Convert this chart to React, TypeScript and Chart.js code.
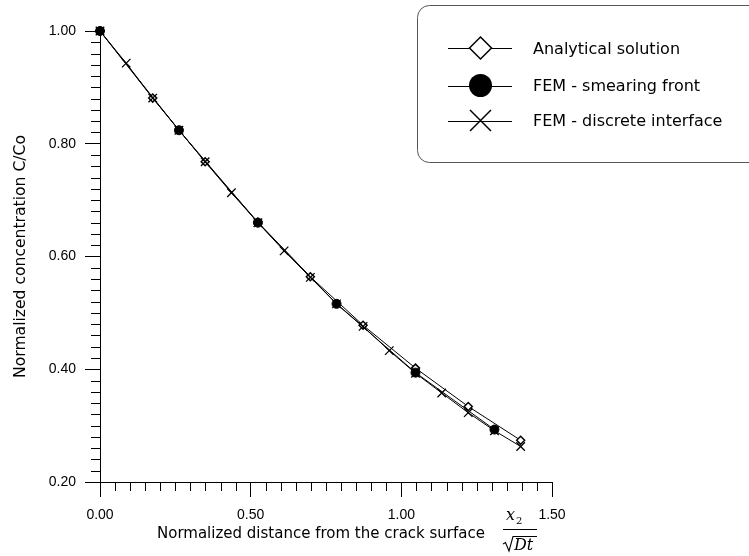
import React, { useEffect, useRef } from 'react';
import { Chart, registerables } from 'chart.js';

Chart.register(...registerables);

// ---------- data ----------
const analyticalX = [0, 0.175, 0.349, 0.524, 0.698, 0.873, 1.047, 1.222, 1.396];
const analyticalY = [1.0, 0.881, 0.768, 0.661, 0.564, 0.478, 0.402, 0.334, 0.274];

const smearingX = [0, 0.262, 0.524, 0.785, 1.047, 1.309];
const smearingY = [1.0, 0.824, 0.66, 0.516, 0.394, 0.293];

const discreteX = [0, 0.087, 0.175, 0.262, 0.349, 0.436, 0.524, 0.611, 0.698, 0.785, 0.873, 0.96, 1.047, 1.134, 1.222, 1.309, 1.396];
const discreteY = [1.0, 0.943, 0.881, 0.824, 0.768, 0.713, 0.66, 0.61, 0.563, 0.516, 0.476, 0.433, 0.393, 0.358, 0.323, 0.291, 0.263];

const seriesNames = ['Analytical solution', 'FEM - smearing front', 'FEM - discrete interface'];

const xMajorTicks = [0, 0.5, 1.0, 1.5];
const xTickLabels = ['0.00', '0.50', '1.00', '1.50'];
const yMajorTicks = [0.2, 0.4, 0.6, 0.8, 1.0];
const yTickLabels = ['0.20', '0.40', '0.60', '0.80', '1.00'];
const xMinorStep = 0.05;
const yMinorStep = 0.02;

const yTitle = 'Normalized concentration C/Co';
const xTitle = 'Normalized distance from the crack surface';

const toPoints = (xs: number[], ys: number[]) => xs.map((x, i) => ({ x, y: ys[i] }));

function drawMarker(ctx: CanvasRenderingContext2D, kind: string, x: number, y: number, r: number) {
  ctx.save();
  ctx.strokeStyle = '#000';
  ctx.lineWidth = 1.5;
  ctx.beginPath();
  if (kind === 'diamond') {
    ctx.moveTo(x, y - r);
    ctx.lineTo(x + r, y);
    ctx.lineTo(x, y + r);
    ctx.lineTo(x - r, y);
    ctx.closePath();
    ctx.fillStyle = '#fff';
    ctx.fill();
    ctx.stroke();
  } else if (kind === 'circle') {
    ctx.arc(x, y, r, 0, Math.PI * 2);
    ctx.fillStyle = '#000';
    ctx.fill();
  } else {
    ctx.moveTo(x - r, y - r);
    ctx.lineTo(x + r, y + r);
    ctx.moveTo(x + r, y - r);
    ctx.lineTo(x - r, y + r);
    ctx.stroke();
  }
  ctx.restore();
}

const decorPlugin = {
  id: 'decor',
  afterDraw(chart: any) {
    const ctx: CanvasRenderingContext2D = chart.ctx;
    const xs = chart.scales.x;
    const ys = chart.scales.y;
    const area = chart.chartArea;
    ctx.save();

    // minor ticks
    ctx.strokeStyle = '#000';
    ctx.lineWidth = 1;
    ctx.beginPath();
    const xMin = xs.min, xMax = xs.max;
    const nx = Math.round((xMax - xMin) / xMinorStep);
    for (let k = 0; k <= nx; k++) {
      const v = xMin + k * xMinorStep;
      if (xMajorTicks.some((t) => Math.abs(t - v) < 1e-6)) continue;
      const px = Math.round(xs.getPixelForValue(v)) + 0.5;
      ctx.moveTo(px, area.bottom);
      ctx.lineTo(px, area.bottom + 9);
    }
    const yMin = ys.min, yMax = ys.max;
    const ny = Math.round((yMax - yMin) / yMinorStep);
    for (let k = 0; k <= ny; k++) {
      const v = yMin + k * yMinorStep;
      if (yMajorTicks.some((t) => Math.abs(t - v) < 1e-6)) continue;
      const py = Math.round(ys.getPixelForValue(v)) + 0.5;
      ctx.moveTo(area.left - 9, py);
      ctx.lineTo(area.left, py);
    }
    ctx.stroke();

    // y title
    ctx.fillStyle = '#000';
    ctx.save();
    ctx.translate(25, (area.top + area.bottom) / 2);
    ctx.rotate(-Math.PI / 2);
    ctx.font = '15.6px "DejaVu Sans"';
    ctx.textAlign = 'center';
    ctx.textBaseline = 'alphabetic';
    ctx.fillText(yTitle, 0, 0);
    ctx.restore();

    // x title + fraction
    ctx.font = '15px "DejaVu Sans"';
    ctx.textAlign = 'left';
    ctx.textBaseline = 'alphabetic';
    ctx.fillText(xTitle, 157, 538);
    const fx = 503;
    ctx.font = 'italic 16px "DejaVu Serif"';
    ctx.fillText('x', fx + 3, 520);
    ctx.font = '10px "DejaVu Serif"';
    ctx.fillText('2', fx + 13, 524);
    ctx.beginPath();
    ctx.lineWidth = 1;
    ctx.moveTo(fx, 529.5);
    ctx.lineTo(fx + 34, 529.5);
    ctx.stroke();
    ctx.beginPath();
    ctx.lineWidth = 1.1;
    ctx.moveTo(fx, 544);
    ctx.lineTo(fx + 2.5, 542.5);
    ctx.lineTo(fx + 6, 551);
    ctx.lineTo(fx + 10, 536.5);
    ctx.lineTo(fx + 34, 536.5);
    ctx.stroke();
    ctx.font = 'italic 16px "DejaVu Serif"';
    ctx.fillText('Dt', fx + 11, 550);

    // legend
    const bx = 417.5, by = 5.5, bw = 400, bh = 157, br = 12;
    ctx.beginPath();
    ctx.moveTo(bx + br, by);
    ctx.lineTo(bx + bw, by);
    ctx.lineTo(bx + bw, by + bh);
    ctx.lineTo(bx + br, by + bh);
    ctx.arcTo(bx, by + bh, bx, by + bh - br, br);
    ctx.lineTo(bx, by + br);
    ctx.arcTo(bx, by, bx + br, by, br);
    ctx.closePath();
    ctx.strokeStyle = '#555';
    ctx.lineWidth = 1;
    ctx.stroke();

    const rows = [48, 85.5, 120.5];
    const kinds = ['diamond', 'circle', 'cross'];
    const sizes = [11, 11.5, 10.5];
    chart.data.datasets.forEach((ds: any, i: number) => {
      const y = rows[i];
      ctx.beginPath();
      ctx.strokeStyle = '#000';
      ctx.lineWidth = 1;
      ctx.moveTo(448, Math.round(y) + 0.5);
      ctx.lineTo(512, Math.round(y) + 0.5);
      ctx.stroke();
      drawMarker(ctx, kinds[i], 480.5, y, sizes[i]);
      ctx.fillStyle = '#000';
      ctx.font = '16px "DejaVu Sans"';
      ctx.textAlign = 'left';
      ctx.textBaseline = 'alphabetic';
      ctx.fillText(ds.label, 533, y + 5.8);
    });

    ctx.restore();
  },
};

export default function App() {
  const canvasRef = useRef<HTMLCanvasElement | null>(null);

  useEffect(() => {
    document.body.style.margin = '0';
    const canvas = canvasRef.current;
    if (!canvas) return;
    const tickFont = { family: '"Liberation Sans", Arial, sans-serif', size: 14 };
    const chart = new Chart(canvas, {
      type: 'scatter',
      data: {
        datasets: [
          {
            label: seriesNames[0],
            data: toPoints(analyticalX, analyticalY),
            showLine: true,
            clip: false,
            borderColor: '#000',
            borderWidth: 1,
            pointStyle: 'rectRot',
            pointRadius: 4,
            pointBackgroundColor: '#fff',
            pointBorderColor: '#000',
            pointBorderWidth: 1.5,
            order: 3,
          },
          {
            label: seriesNames[1],
            data: toPoints(smearingX, smearingY),
            showLine: true,
            clip: false,
            borderColor: '#000',
            borderWidth: 1,
            pointStyle: 'circle',
            pointRadius: 4.5,
            pointBackgroundColor: '#000',
            pointBorderColor: '#000',
            pointBorderWidth: 1,
            order: 1,
          },
          {
            label: seriesNames[2],
            data: toPoints(discreteX, discreteY),
            showLine: true,
            clip: false,
            borderColor: '#000',
            borderWidth: 1,
            pointStyle: 'crossRot',
            pointRadius: 6,
            pointBorderColor: '#000',
            pointBorderWidth: 1.3,
            order: 2,
          },
        ] as any,
      },
      options: {
        animation: false,
        responsive: false,
        devicePixelRatio: 1,
        layout: { padding: { left: 0, top: 31, right: 197, bottom: 0 } },
        plugins: { legend: { display: false }, tooltip: { enabled: false } },
        scales: {
          x: {
            type: 'linear',
            min: 0,
            max: 1.5,
            afterFit: (s: any) => { s.height = 74; },
            afterBuildTicks: (s: any) => { s.ticks = xMajorTicks.map((v) => ({ value: v })); },
            ticks: {
              font: tickFont,
              color: '#000',
              padding: 10,
              maxRotation: 0,
              callback: (_v: any, i: number) => xTickLabels[i],
            },
            grid: { drawOnChartArea: false, drawTicks: true, tickLength: 15, color: '#000' },
            border: { display: true, color: '#000', width: 1 },
          },
          y: {
            type: 'linear',
            min: 0.2,
            max: 1.0,
            afterFit: (s: any) => { s.width = 100; },
            afterBuildTicks: (s: any) => { s.ticks = yMajorTicks.map((v) => ({ value: v })); },
            ticks: {
              font: tickFont,
              color: '#000',
              padding: 9,
              callback: (_v: any, i: number) => yTickLabels[i],
            },
            grid: { drawOnChartArea: false, drawTicks: true, tickLength: 15, color: '#000' },
            border: { display: true, color: '#000', width: 1 },
          },
        },
      } as any,
      plugins: [decorPlugin],
    });
    return () => chart.destroy();
  }, []);

  return (
    <div style={{ position: 'fixed', left: 0, top: 0, width: 749, height: 556, background: '#fff' }}>
      <canvas ref={canvasRef} width={749} height={556} />
    </div>
  );
}
